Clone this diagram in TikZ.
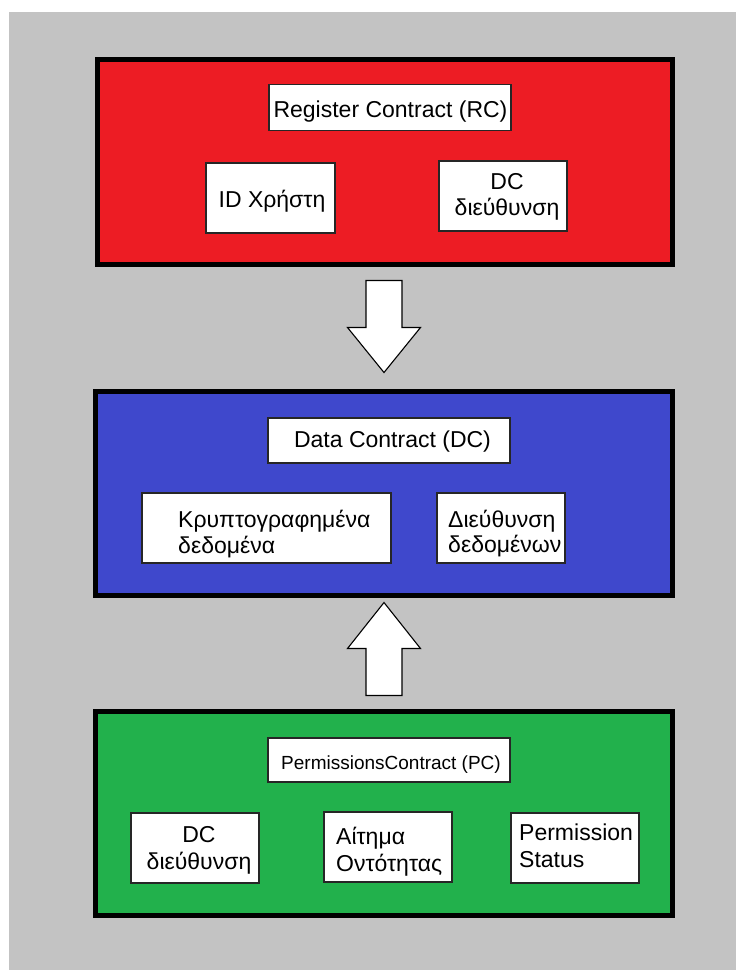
\documentclass[tikz,border=0pt]{standalone}
\usepackage{fontspec}
\setmainfont{Liberation Sans}
\usetikzlibrary{calc}
\definecolor{paintgray}{RGB}{195,195,195}
\definecolor{paintred}{RGB}{237,28,36}
\definecolor{paintblue}{RGB}{63,72,204}
\definecolor{paintgreen}{RGB}{34,177,76}
\begin{document}
\begin{tikzpicture}[x=1pt,y=-1pt,
  panel/.style={draw=black, line width=5pt, inner sep=0pt, minimum width=577pt, minimum height=204pt},
  card/.style={draw=black!85, fill=white, line width=1.6pt, inner sep=0pt,
    minimum width=128pt, minimum height=70pt},
  titlecard/.style={card, minimum width=242pt, minimum height=46pt},
  txt/.style={inner sep=0pt, anchor=base, font=\fontsize{23}{26}\selectfont},
  ltxt/.style={txt, anchor=base west},
  smalltxt/.style={txt, font=\fontsize{19}{23}\selectfont},
  blockarrow/.style={draw=black, fill=white, line width=1.1pt, line join=miter}]
% canvas
\useasboundingbox (0,0) rectangle (736,970);
\fill[white] (0,0) rectangle (736,970);
\fill[paintgray] (9,12) rectangle (736,970);

% Register Contract panel
\node[panel, fill=paintred, minimum width=575pt, minimum height=205pt] (rc) at (385,162) {};
\node[titlecard] (rcTitle) at (390,107.5) {};
\node[txt] (rcTitleText) at (390.5,117) {Register Contract (RC)};
\node[card, minimum width=129pt] (rcUser) at (270.5,198) {};
\node[txt] (rcUserText) at (272,207) {ID Χρήστη};
\node[card] (rcAddr) at (503,196) {};
\node[txt] (rcAddrA) at (507,189) {DC};
\node[txt] (rcAddrB) at (507,215) {διεύθυνση};

% Data Contract panel
\node[panel, fill=paintblue] (dc) at (384,493.5) {};
\node[titlecard, minimum height=45pt] (dcTitle) at (389,440.5) {};
\node[txt] (dcTitleText) at (392.5,447) {Data Contract (DC)};
\node[card, minimum width=249pt] (dcEnc) at (266.5,528) {};
\node[ltxt] (dcEncA) at (178,527) {Κρυπτογραφημένα};
\node[ltxt] (dcEncB) at (178,553) {δεδομένα};
\node[card] (dcAddr) at (501,528) {};
\node[ltxt] (dcAddrA) at (448,527) {Διεύθυνση};
\node[ltxt] (dcAddrB) at (448,552.5) {δεδομένων};

% Permissions Contract panel
\node[panel, fill=paintgreen] (pc) at (384,813.5) {};
\node[titlecard, minimum height=44pt] (pcTitle) at (389,760) {};
\node[smalltxt] (pcTitleText) at (391,769) {PermissionsContract (PC)};
\node[card] (pcAddr) at (195,848) {};
\node[txt] (pcAddrA) at (199,842) {DC};
\node[txt] (pcAddrB) at (199,869) {διεύθυνση};
\node[card] (pcReq) at (388,847) {};
\node[ltxt] (pcReqA) at (336,844) {Αίτημα};
\node[ltxt] (pcReqB) at (336,871) {Οντότητας};
\node[card] (pcStatus) at (575,848) {};
\node[ltxt] (pcStatusA) at (519,840) {Permission};
\node[ltxt] (pcStatusB) at (519,867.5) {Status};

% block arrows between the panels
\draw[blockarrow, shift={($(rc.south)+(-1,13.5)$)}]
  (-18,0) -- (18,0) -- (18,47) -- (36.5,47) -- (0,92) -- (-36.5,47) -- (-18,47) -- cycle;
\draw[blockarrow, shift={($(pc.north)+(0,-13.5)$)}]
  (-18,0) -- (18,0) -- (18,-47) -- (36.5,-47) -- (0,-93) -- (-36.5,-47) -- (-18,-47) -- cycle;
\end{tikzpicture}
\end{document}
